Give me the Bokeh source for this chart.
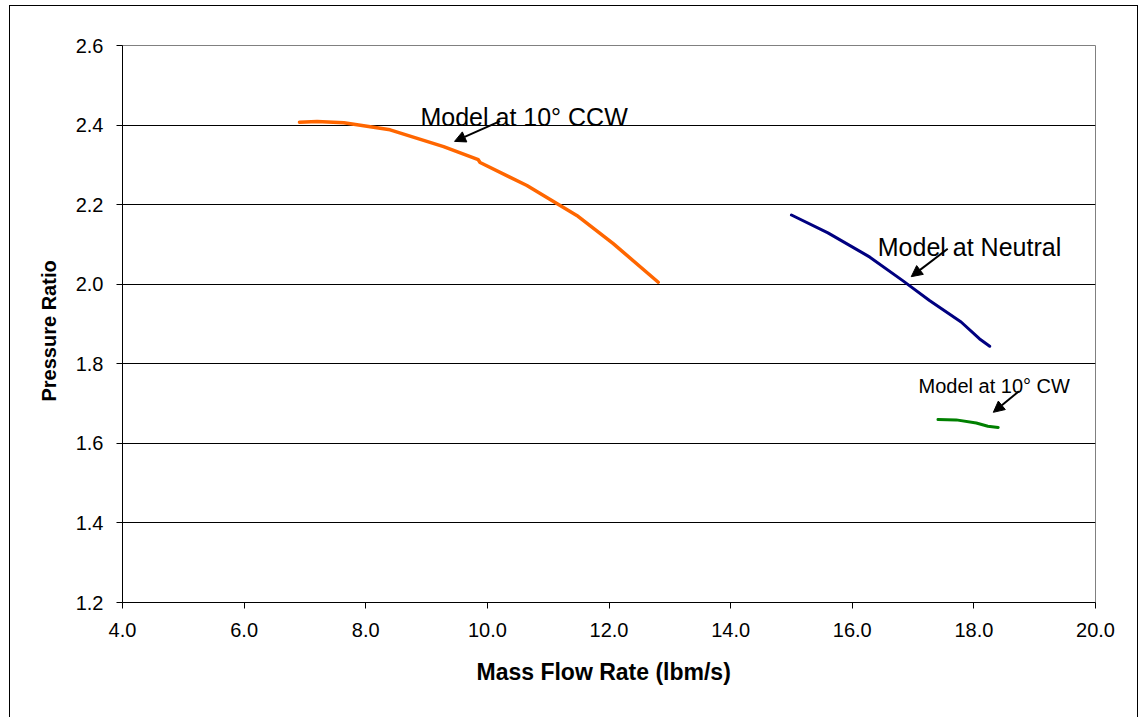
from bokeh.plotting import figure
from bokeh.models import Range1d, FixedTicker, NumeralTickFormatter, Label, Arrow, NormalHead, Title
from bokeh.embed import file_html
from bokeh.resources import INLINE

# Data
ccw_x = [6.91, 7.20, 7.64, 8.40, 9.28, 9.85, 9.88, 10.65, 11.47, 12.07, 12.81]
ccw_y = [2.407, 2.409, 2.406, 2.388, 2.346, 2.313, 2.306, 2.248, 2.173, 2.102, 2.005]

neutral_x = [15.00, 15.60, 16.29, 16.83, 17.27, 17.79, 18.09, 18.26]
neutral_y = [2.174, 2.129, 2.068, 2.009, 1.959, 1.905, 1.863, 1.844]

cw_x = [17.41, 17.71, 18.04, 18.23, 18.40]
cw_y = [1.660, 1.659, 1.651, 1.643, 1.640]

x_ticks = [4.0, 6.0, 8.0, 10.0, 12.0, 14.0, 16.0, 18.0, 20.0]
y_ticks = [1.2, 1.4, 1.6, 1.8, 2.0, 2.2, 2.4, 2.6]

x_title = "Mass Flow Rate (lbm/s)"
y_title = "Pressure Ratio"

FONT = "Liberation Sans"

p = figure(width=1129, height=712, output_backend="svg", toolbar_location=None,
           x_range=Range1d(4, 20), y_range=Range1d(1.2, 2.6),
           min_border_left=112, min_border_top=39, min_border_right=44, min_border_bottom=116)
p.margin = (5, 0, 0, 9)
p.styles = {"border-left": "1px solid black", "border-top": "1px solid black",
            "border-right": "1px solid black"}

p.background_fill_color = "white"
p.border_fill_color = "white"
p.outline_line_color = "#808080"
p.outline_line_width = 1

p.xgrid.grid_line_color = None
p.ygrid.grid_line_color = "black"
p.ygrid.grid_line_width = 1

p.xaxis.ticker = FixedTicker(ticks=x_ticks)
p.yaxis.ticker = FixedTicker(ticks=y_ticks)
p.xaxis.formatter = NumeralTickFormatter(format="0.0")
p.yaxis.formatter = NumeralTickFormatter(format="0.0")
for ax in (p.xaxis, p.yaxis):
    ax.axis_line_color = "black"
    ax.axis_line_width = 1
    ax.major_tick_line_color = "black"
    ax.major_tick_in = 0
    ax.major_tick_out = 6
    ax.minor_tick_line_color = None
    ax.major_label_text_font = FONT
    ax.major_label_text_font_size = "20px"
    ax.major_label_text_color = "black"
p.xaxis.major_label_standoff = 14
p.yaxis.major_label_standoff = 13

# axis titles as side titles
p.add_layout(Title(text=x_title, text_font=FONT, text_font_style="bold",
                   text_font_size="23px", text_color="black", align="left",
                   offset=354, standoff=34), "below")
p.add_layout(Title(text=y_title, text_font=FONT, text_font_style="bold",
                   text_font_size="20px", text_color="black", align="left",
                   offset=201, standoff=25), "left")

p.line(ccw_x, ccw_y, line_color="#FF6600", line_width=3.5, line_cap="round", line_join="round")
p.line(neutral_x, neutral_y, line_color="#000080", line_width=3, line_cap="round", line_join="round")
p.line(cw_x, cw_y, line_color="#008000", line_width=3, line_cap="round", line_join="round")

# annotations
p.add_layout(Label(x=8.9, y=2.42, text="Model at 10° CCW", text_font=FONT,
                   text_font_size="25px", text_color="black", text_baseline="alphabetic"))
p.add_layout(Label(x=16.42, y=2.093, text="Model at Neutral", text_font=FONT,
                   text_font_size="25px", text_color="black", text_baseline="alphabetic"))
p.add_layout(Label(x=17.09, y=1.743, text="Model at 10° CW", text_font=FONT,
                   text_font_size="20px", text_color="black", text_baseline="alphabetic"))

def head():
    return NormalHead(size=11, fill_color="black", line_color="black", line_width=1)

p.add_layout(Arrow(x_start=10.21, y_start=2.410, x_end=9.46, y_end=2.359,
                   end=head(), line_color="black", line_width=2))
p.add_layout(Arrow(x_start=17.57, y_start=2.089, x_end=16.97, y_end=2.019,
                   end=head(), line_color="black", line_width=2))
p.add_layout(Arrow(x_start=18.74, y_start=1.731, x_end=18.32, y_end=1.678,
                   end=head(), line_color="black", line_width=2))

open("out.html", "w").write(file_html(p, INLINE))
